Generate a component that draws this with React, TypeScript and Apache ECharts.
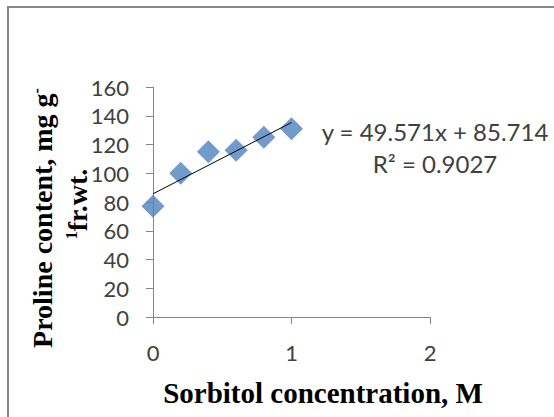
import React, { useEffect, useRef } from "react";
import * as echarts from "echarts";

const xValues = [0, 0.2, 0.4, 0.6, 0.8, 1.0];
const yValues = [77, 100, 115, 116, 125, 131];
const trendSlope = 49.571;
const trendIntercept = 85.714;
const trendRange = [0, 1];
const equationText = "y = 49.571x + 85.714";
const r2Text = "R² = 0.9027";
const xTitle = "Sorbitol concentration, M";
const yTitleLine1 = "Proline content, mg g";
const yTitleLine2 = "fr.wt.";

export default function App() {
  const ref = useRef<HTMLDivElement>(null);
  useEffect(() => {
    if (!ref.current) return;
    const chart = echarts.init(ref.current, null, { renderer: "svg" });
    const tickFont = "Lato";
    const axisColor = "#868686";
    const textColor = "#404040";
    chart.setOption({
      animation: false,
      backgroundColor: "#ffffff",
      grid: { left: 153, right: 124, top: 87, bottom: 100 },
      xAxis: {
        type: "value",
        min: 0,
        max: 2,
        interval: 1,
        axisLine: { show: true, lineStyle: { color: axisColor, width: 1 } },
        axisTick: { show: true, inside: false, length: 7, lineStyle: { color: axisColor } },
        splitLine: { show: false },
        axisLabel: { color: textColor, fontFamily: tickFont, fontSize: 22, margin: 24 },
      },
      yAxis: {
        type: "value",
        min: 0,
        max: 160,
        interval: 20,
        axisLine: { show: true, lineStyle: { color: axisColor, width: 1 } },
        axisTick: { show: true, inside: false, length: 7, lineStyle: { color: axisColor } },
        splitLine: { show: false },
        axisLabel: { color: textColor, fontFamily: tickFont, fontSize: 22, margin: 24 },
      },
      series: [
        {
          type: "scatter",
          data: xValues.map((x, i) => [x, yValues[i]]),
          symbol: "diamond",
          symbolSize: 23,
          itemStyle: { color: "#4F81BD" },
          z: 2,
        },
        {
          type: "line",
          data: trendRange.map((x) => [x, trendIntercept + trendSlope * x]),
          showSymbol: false,
          symbol: "none",
          lineStyle: { color: "#000000", width: 1 },
          z: 3,
        },
      ],
      graphic: [
        {
          type: "rect",
          shape: { x: 8, y: 7, width: 700, height: 600 },
          style: { fill: "none", stroke: "#888888", lineWidth: 2 },
          z: 0,
        },
        {
          type: "text",
          x: 435,
          y: 131,
          style: {
            text: equationText,
            font: `24px ${tickFont}`,
            fill: textColor,
            textAlign: "center",
            textVerticalAlign: "middle",
          },
        },
        {
          type: "text",
          x: 435,
          y: 163,
          style: {
            text: r2Text,
            font: `24px ${tickFont}`,
            fill: textColor,
            textAlign: "center",
            textVerticalAlign: "middle",
          },
        },
        {
          type: "text",
          x: 323,
          y: 393,
          style: {
            text: xTitle,
            font: "bold 29px 'Liberation Serif'",
            fill: "#000000",
            textAlign: "center",
            textVerticalAlign: "middle",
          },
        },
        {
          type: "text",
          x: 42,
          y: 218,
          rotation: Math.PI / 2,
          style: {
            text: "{a|" + yTitleLine1 + "}{s|-}",
            fill: "#000000",
            textAlign: "center",
            textVerticalAlign: "middle",
            rich: {
              a: { font: "bold 28px 'Liberation Serif'", fill: "#000000" },
              s: { font: "bold 16px 'Liberation Serif'", fill: "#000000", verticalAlign: "top", padding: [0, 0, 12, 0] },
            },
          },
        },
        {
          type: "text",
          x: 77,
          y: 204,
          rotation: Math.PI / 2,
          style: {
            text: "{s|1}{a|" + yTitleLine2 + "}",
            fill: "#000000",
            textAlign: "center",
            textVerticalAlign: "middle",
            rich: {
              a: { font: "bold 28px 'Liberation Serif'", fill: "#000000" },
              s: { font: "bold 16px 'Liberation Serif'", fill: "#000000", padding: [0, 0, 12, 0] },
            },
          },
        },
      ],
    });
    return () => chart.dispose();
  }, []);
  return (
    <div
      ref={ref}
      style={{ position: "fixed", left: 0, top: 0, width: 554, height: 417, background: "#fff" }}
    />
  );
}
